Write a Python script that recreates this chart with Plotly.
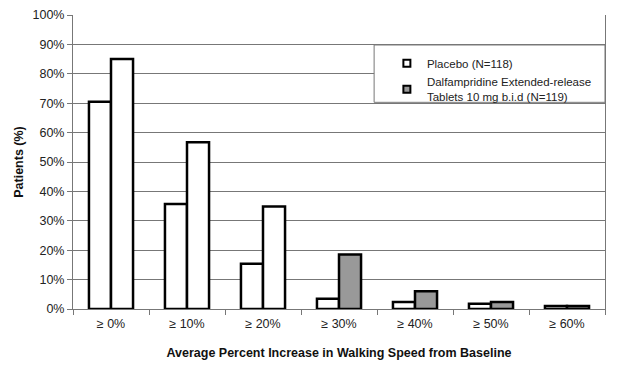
import plotly.graph_objects as go

categories = ["≥ 0%", "≥ 10%", "≥ 20%", "≥ 30%", "≥ 40%", "≥ 50%", "≥ 60%"]
placebo = [70.5, 35.7, 15.4, 3.5, 2.4, 1.8, 1.0]
dalfampridine = [85.0, 56.7, 34.9, 18.5, 6.0, 2.4, 1.0]
dalf_colors = ["white", "white", "white", "#999999", "#999999", "#999999", "#999999"]
y_ticks = list(range(0, 101, 10))
y_tick_labels = [f"{v}%" for v in y_ticks]

fig = go.Figure()
fig.add_trace(go.Bar(x=categories, y=placebo, name="Placebo (N=118)",
                     marker=dict(color="white", line=dict(color="black", width=2.5)),
                     showlegend=False))
fig.add_trace(go.Bar(x=categories, y=dalfampridine, name="Dalfampridine",
                     marker=dict(color=dalf_colors, line=dict(color="black", width=2.5)),
                     showlegend=False))
# legend entries
fig.add_trace(go.Scatter(x=[None], y=[None], mode="markers", name="Placebo (N=118)",
                         marker=dict(symbol="square", size=7, color="white",
                                     line=dict(color="black", width=2))))
fig.add_trace(go.Scatter(x=[None], y=[None], mode="markers",
                         name="Dalfampridine Extended-release<br>Tablets 10 mg b.i.d (N=119)",
                         marker=dict(symbol="square", size=7, color="#999999",
                                     line=dict(color="black", width=2))))

fig.add_shape(type="rect", xref="paper", yref="paper", x0=0.566, x1=1.0, y0=0.703, y1=0.898,
              fillcolor="white", line=dict(color="#777777", width=1), layer="above")

fig.update_layout(
    width=609, height=357,
    margin=dict(l=65, r=12, t=7, b=56, autoexpand=False),
    paper_bgcolor="white", plot_bgcolor="white",
    font=dict(family="Liberation Sans, Arial, sans-serif", size=12, color="#222222"),
    bargap=0.42, bargroupgap=0,
    barmode="group",
    legend=dict(x=0.59, y=0.885, xanchor="left", yanchor="top",
                bgcolor="rgba(0,0,0,0)", font=dict(size=11.5, color="#222222"),
                tracegroupgap=4, itemwidth=30),
    xaxis=dict(
        title=dict(text="<b>Average Percent Increase in Walking Speed from Baseline</b>",
                   font=dict(size=12.5, color="#111111"), standoff=18),
        tickson="boundaries", ticks="outside", ticklen=5, tickcolor="#777777",
        ticklabelstandoff=3,
        showline=True, linecolor="#777777", linewidth=1, mirror=False,
        showgrid=False, tickfont=dict(size=12.5), automargin=False,
    ),
    yaxis=dict(
        title=dict(text="<b>Patients (%)</b>", font=dict(size=12.5, color="#111111"), standoff=6),
        range=[0, 100], tickvals=y_ticks, ticktext=y_tick_labels,
        ticks="outside", ticklen=5, tickcolor="#777777", ticklabeloverflow="allow",
        showline=True, linecolor="#777777", linewidth=1, mirror=True,
        showgrid=True, gridcolor="#777777", gridwidth=1, zeroline=False,
        tickfont=dict(size=12.5), automargin=False,
    ),
)

fig.write_html("out.html")
